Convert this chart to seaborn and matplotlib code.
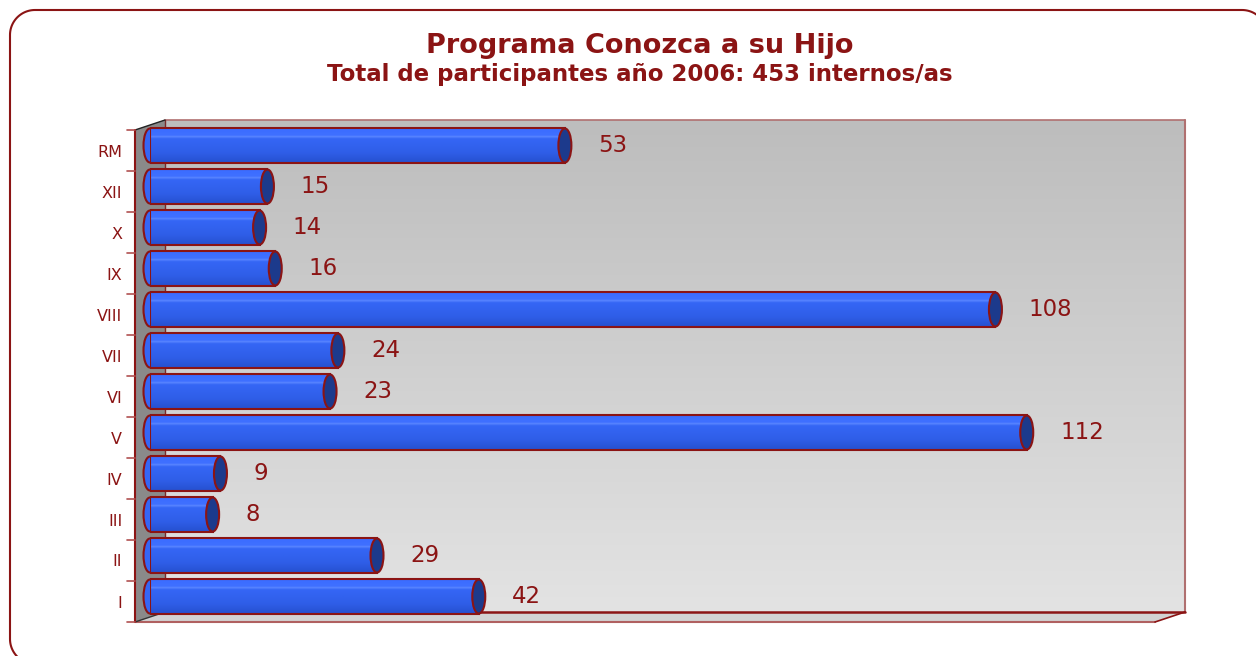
import numpy as np
import pandas as pd
import matplotlib
matplotlib.use("Agg")
import matplotlib.pyplot as plt
import seaborn as sns
from matplotlib.colors import LinearSegmentedColormap
from matplotlib.patches import Polygon, Ellipse
from matplotlib.transforms import ScaledTranslation

# Datos del gráfico
regiones = ["RM", "XII", "X", "IX", "VIII", "VII", "VI", "V", "IV", "III", "II", "I"]
participantes = [53, 15, 14, 16, 108, 24, 23, 112, 9, 8, 29, 42]
titulo = "Programa Conozca a su Hijo"
subtitulo = "Total de participantes año 2006: 453 internos/as"

ROJO = "#8b1414"
AZUL = "#3163ee"
TAPA = "#1c3a8c"

sns.set_style("white")
plt.rcParams["font.family"] = ["DejaVu Sans"]

fig = plt.figure(figsize=(12.56, 6.56), dpi=100)

# Fondo en coordenadas de pixel (paredes 3D)
bg = fig.add_axes([0, 0, 1, 1], zorder=0)
pared = LinearSegmentedColormap.from_list("pared", ["#bdbdbd", "#e3e3e3"])
bg.imshow(np.linspace(0, 1, 200).reshape(-1, 1), cmap=pared, aspect="auto",
          extent=[165, 1185, 612, 120])
bg.add_patch(Polygon([(135, 130), (165, 120), (165, 612), (135, 622)],
                     closed=True, fc="#8a8a8a", ec="none"))
bg.add_patch(Polygon([(135, 622), (165, 612), (1185, 612), (1155, 622)],
                     closed=True, fc="#d2d2d2", ec="none"))
bg.plot([165, 1185], [120, 120], color="#b07070", lw=1.2)
bg.plot([1185, 1185], [120, 612], color="#b07070", lw=1.5)
bg.plot([165, 165], [120, 612], color="#7a2a2a", lw=1)
bg.plot([165, 1185], [612, 612], color=ROJO, lw=1.8)
bg.plot([135, 1155], [622, 622], color="#b06060", lw=1.5)
bg.plot([1155, 1185], [622, 612], color=ROJO, lw=1.2)
bg.plot([135, 165], [622, 612], color="#333333", lw=1)
bg.plot([135, 165], [130, 120], color="#222222", lw=1)
bg.plot([135, 135], [130, 622], color=ROJO, lw=1.5)
for k in range(13):
    yy = 130 + 41 * k
    bg.plot([127, 135], [yy, yy], color="#b05050", lw=1.2)

# marco redondeado exterior
r = 25
a1 = np.linspace(0.5 * np.pi, np.pi, 30)
a2 = np.linspace(np.pi, 1.5 * np.pi, 30)
a3 = np.linspace(1.5 * np.pi, 2 * np.pi, 30)
marco_x = np.concatenate([10 + r + r * np.cos(a1), 10 + r + r * np.cos(a2), 1267 - r + r * np.cos(a3)])
marco_y = np.concatenate([664 - r + r * np.sin(a1), 10 + r + r * np.sin(a2), 10 + r + r * np.sin(a3)])
bg.plot(marco_x, marco_y, color=ROJO, lw=1.5)

bg.set_xlim(0, 1256)
bg.set_ylim(656, 0)
bg.axis("off")

# Ejes de datos (plano medio de las barras)
ax = fig.add_axes([150 / 1256, 1 - 617 / 656, 1020 / 1256, 492 / 656], zorder=1)
ax.patch.set_alpha(0)

df = pd.DataFrame({"region": regiones, "n": participantes})
sns.barplot(data=df, x="n", y="region", orient="h", color=AZUL, saturation=1,
            edgecolor=ROJO, linewidth=1.5, width=0.83, ax=ax)

xmax = 130.3
capw = 13 / 1020 * xmax
grad = LinearSegmentedColormap.from_list(
    "barra", [(0, "#3b6cff"), (0.2, "#3f70ff"), (0.24, "#5a86ff"), (0.3, "#3566f5"),
              (0.7, "#2f5ee8"), (1, "#2650cf")])
for p in list(ax.patches):
    x0, y0, w, h = p.get_x(), p.get_y(), p.get_width(), p.get_height()
    p.set_facecolor("none")
    p.set_zorder(2)
    im = ax.imshow(np.linspace(0, 1, 100).reshape(-1, 1), cmap=grad, aspect="auto",
                   extent=[x0, x0 + w, y0 + h, y0], zorder=1.5)
    im.set_clip_path(p)
    # extremo izquierdo redondeado
    ax.add_patch(Ellipse((x0, y0 + h / 2), capw, h, fc="#3566f5", ec=ROJO, lw=1.5,
                         zorder=1.2, clip_on=False))
    # tapa del cilindro
    ax.add_patch(Ellipse((x0 + w, y0 + h / 2), capw, h, fc=TAPA, ec=ROJO, lw=1.5, zorder=3))

for i, v in enumerate(participantes):
    ax.annotate(str(v), (v, i), xytext=(24, 0), textcoords="offset points",
                ha="left", va="center", fontsize=16.5, color=ROJO)

ax.set_xlim(0, xmax)
ax.set_ylim(11.5, -0.5)
ax.set_xticks([])
ax.set_xlabel("")
ax.set_ylabel("")
ax.set_yticks(range(len(regiones)), regiones)
ax.tick_params(axis="y", length=0, pad=20, labelsize=11.5, labelcolor=ROJO)
offset = ScaledTranslation(0, -5 / 100, fig.dpi_scale_trans)
for lbl in ax.get_yticklabels():
    lbl.set_transform(lbl.get_transform() + offset)
sns.despine(ax=ax, left=True, bottom=True)

fig.text(640 / 1256, 1 - 46 / 656, titulo, ha="center", va="center",
         fontsize=19.5, fontweight="bold", color=ROJO)
fig.text(640 / 1256, 1 - 75 / 656, subtitulo, ha="center", va="center",
         fontsize=16.5, fontweight="bold", color=ROJO)

fig.savefig("out.png", dpi=100)
